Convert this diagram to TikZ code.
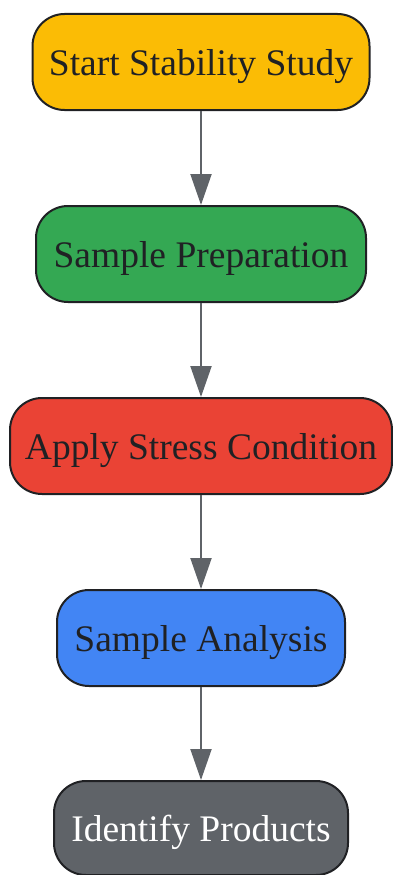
\documentclass[tikz,border=0pt]{standalone}
\usepackage{fontspec}
\setmainfont{Liberation Serif}
\usetikzlibrary{arrows.meta}
\definecolor{cyellow}{HTML}{FBBC05}
\definecolor{cgreen}{HTML}{34A853}
\definecolor{cred}{HTML}{EA4335}
\definecolor{cblue}{HTML}{4285F4}
\definecolor{cgray}{HTML}{5F6368}
\definecolor{cdark}{HTML}{202124}
\tikzset{
  stepbox/.style={draw=cdark, line width=2pt, rounded corners=32pt,
    minimum height=96pt, inner sep=0pt, text=cdark,
    text height=32pt, text depth=6pt,
    font=\fontsize{37.5}{44}\selectfont},
  flow/.style={draw=cgray, line width=2pt,
    -{Triangle[width=21pt,length=31pt]}, color=cgray}
}
\begin{document}
\begin{tikzpicture}[x=1pt,y=1pt]
\useasboundingbox (0,0) rectangle (392,-875);
\node[stepbox, fill=cyellow, minimum width=337pt] (n1) at (201,-62) {Start Stability Study};
\node[stepbox, fill=cgreen, minimum width=330pt] (n2) at (201,-254) {Sample Preparation};
\node[stepbox, fill=cred, minimum width=382pt] (n3) at (201,-446) {Apply Stress Condition};
\node[stepbox, fill=cblue, minimum width=288pt] (n4) at (201,-638) {Sample Analysis};
\node[stepbox, fill=cgray, text=white, minimum width=294pt, minimum height=94pt] (n5) at (201,-828) {Identify Products};
\draw[flow] (n1) -- (n2);
\draw[flow] (n2) -- (n3);
\draw[flow] (n3) -- (n4);
\draw[flow] (n4) -- (n5);
\end{tikzpicture}
\end{document}
